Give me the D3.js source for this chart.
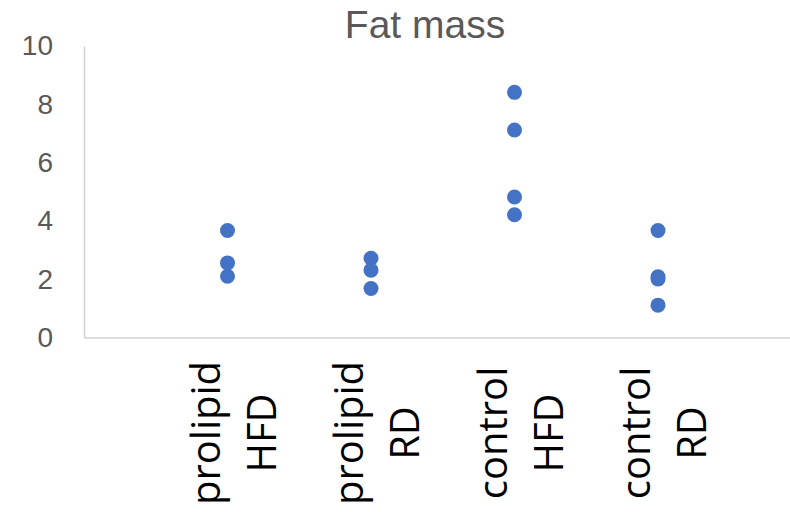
<!DOCTYPE html>
<html>
<head>
<meta charset="utf-8">
<script src="https://cdn.jsdelivr.net/npm/d3@7"></script>
<style>
  html, body { margin: 0; padding: 0; background: #fff; }
  svg { display: block; }
</style>
</head>
<body>
<svg width="790" height="512"></svg>
<script>
// categories (two lines each on the axis)
var groups = [["prolipid", "HFD"], ["prolipid", "RD"], ["control", "HFD"], ["control", "RD"]];

// values
var prolipidHFD = [3.67, 2.56, 2.10];
var prolipidRD = [2.72, 2.31, 1.68];
var controlHFD = [8.41, 7.12, 4.82, 4.21];
var controlRD = [3.67, 2.08, 2.01, 1.11];

var yTicks = [0, 2, 4, 6, 8, 10];

var series = [prolipidHFD, prolipidRD, controlHFD, controlRD];

var svg = d3.select("svg");

// x: category slots 1..4 on a 0..5 axis
var x = d3.scaleLinear()
    .domain([0, 5])
    .range([84, 801.5]);

var y = d3.scaleLinear()
    .domain([0, 10])
    .range([337.5, 46]);

// title
svg.append("text")
    .attr("x", 425)
    .attr("y", 38)
    .attr("text-anchor", "middle")
    .attr("font-family", "Liberation Sans, Arial, sans-serif")
    .attr("font-size", 39)
    .attr("fill", "#595959")
    .text("Fat mass");

// y axis
var yAxis = svg.append("g")
    .attr("transform", "translate(" + x(0) + ",0)")
    .call(d3.axisLeft(y).tickValues(yTicks).tickSize(0).tickPadding(31));
yAxis.select(".domain")
    .attr("stroke", "#d0d0d0")
    .attr("stroke-width", 1.5);
yAxis.selectAll("text")
    .attr("font-family", "Liberation Sans, Arial, sans-serif")
    .attr("font-size", 28)
    .attr("fill", "#595959");

// x axis line
var xAxis = svg.append("g")
    .attr("transform", "translate(0," + y(0) + ")")
    .call(d3.axisBottom(x).tickValues([]).tickSize(0).tickSizeOuter(0));
xAxis.select(".domain")
    .attr("stroke", "#d0d0d0")
    .attr("stroke-width", 1.5);

// category labels, rotated
var labels = svg.append("g")
    .attr("font-family", "Open Sans, Noto Sans, sans-serif")
    .attr("font-size", 40)
    .attr("fill", "#000")
    .attr("text-anchor", "middle")
    .selectAll("g")
    .data(groups)
    .enter().append("g")
    .attr("transform", function(d, i) {
        return "translate(" + x(i + 1) + ",433) rotate(-90)";
    });

labels.selectAll("text")
    .data(function(d) { return d; })
    .enter().append("text")
    .attr("x", 0)
    .attr("y", function(d, j) { return -8 + j * 56; })
    .text(function(d) { return d; });

// points
var pts = [];
series.forEach(function(vals, i) {
    vals.forEach(function(v) { pts.push({g: i + 1, v: v}); });
});

svg.append("g")
    .selectAll("circle")
    .data(pts)
    .enter().append("circle")
    .attr("cx", function(d) { return x(d.g); })
    .attr("cy", function(d) { return y(d.v); })
    .attr("r", 7.5)
    .attr("fill", "#4472C4");
</script>
</body>
</html>
